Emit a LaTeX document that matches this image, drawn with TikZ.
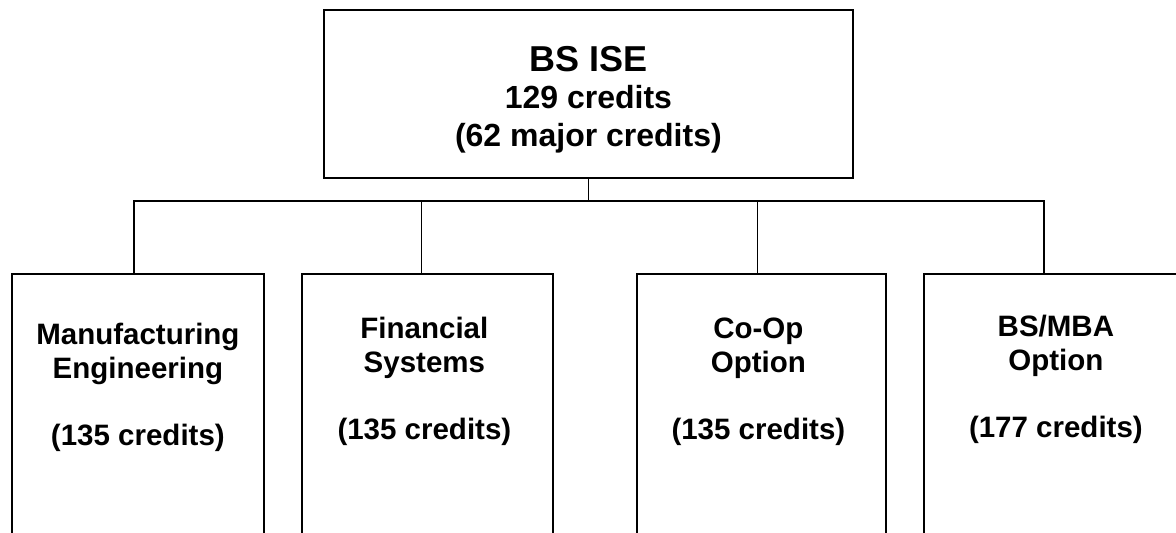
\documentclass[tikz,border=0pt]{standalone}
\usepackage{fontspec}
\setmainfont{Liberation Sans}
\usepackage{tikz}
\usepackage{xcolor}

\begin{document}
\begin{tikzpicture}[x=1pt,y=-1pt,line width=1.8pt,
        optbox/.style={draw,anchor=north west,minimum width=252pt,minimum height=300pt,inner sep=0pt},
        opttext/.style={anchor=base,align=center,inner sep=0pt,font=\bfseries\fontsize{29.5}{33.5}\selectfont}]
                \useasboundingbox (0,0) rectangle (1176,533);
                \clip (0,0) rectangle (1176,533);
                \node[draw,anchor=north west,minimum width=529pt,minimum height=168pt] (ise) at (323,9) {};
                \node[anchor=base,align=center,inner sep=0pt,font=\bfseries\fontsize{32}{37.5}\selectfont] (isetext) at ([yshift=-137pt]ise.north) {{\fontsize{36}{40}\selectfont BS ISE}\\129 credits\\(62 major credits)};
                \node[optbox] (manuf) at (11,273) {};
                \node[optbox,minimum width=251pt] (fin) at (301,273) {};
                \node[optbox,minimum width=249pt] (coop) at (636,273) {};
                \node[optbox,minimum width=264pt] (mba) at (923,273) {};
                \node[opttext] (manuftext) at ([yshift=-172pt]manuf.north) {Manufacturing\\Engineering\\[33.5pt](135 credits)};
                \node[opttext] (fintext) at ([xshift=-3pt,yshift=-166pt]fin.north) {Financial\\Systems\\[33.5pt](135 credits)};
                \node[opttext] (cooptext) at ([xshift=-3pt,yshift=-166pt]coop.north) {Co-Op\\Option\\[33.5pt](135 credits)};
                \node[opttext] (mbatext) at ([yshift=-164pt]mba.north) {BS/MBA\\Option\\[33.5pt](177 credits)};
                \coordinate (bus) at (587.5,201);
                \draw (ise.south) -- (ise.south |- bus);
                \draw ([xshift=-4pt]manuf.north) |- (bus);
                \draw ([xshift=-6pt]fin.north) |- (bus);
                \draw ([xshift=-4pt]coop.north) |- (bus);
                \draw ([xshift=-12pt]mba.north) |- (bus);
            \end{tikzpicture}
\end{document}
